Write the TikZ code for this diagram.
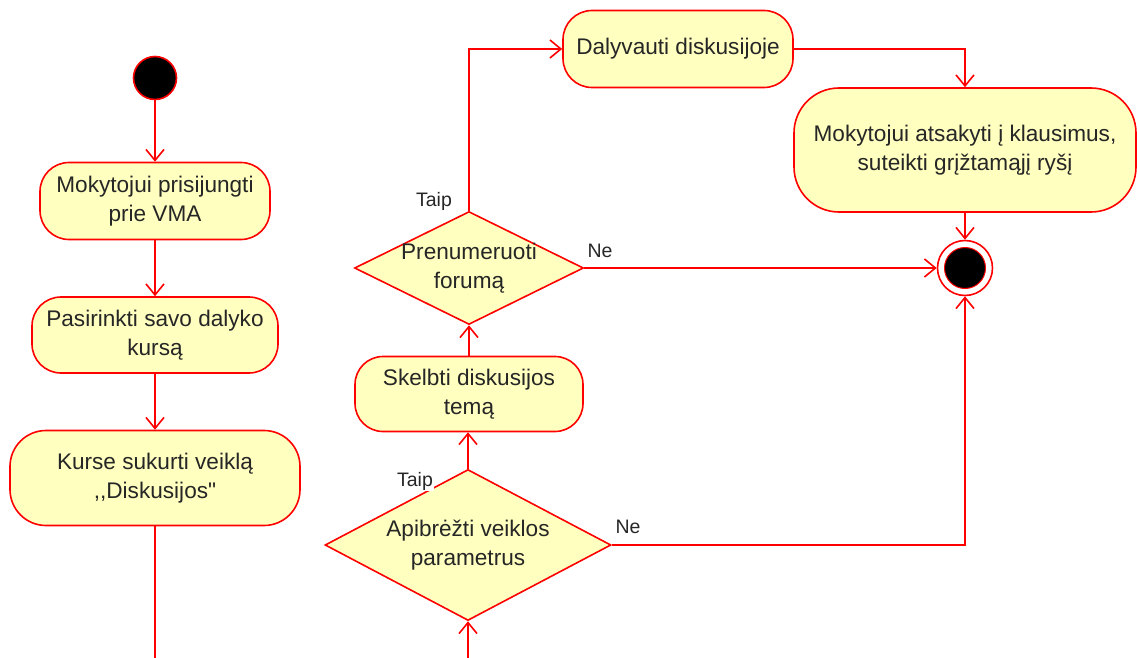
\documentclass[tikz,border=0pt]{standalone}
\usepackage{fontspec}
\setmainfont{Liberation Sans}[Ligatures=TeXOff]
\usetikzlibrary{shapes.geometric,arrows.meta}
\definecolor{actfill}{HTML}{FFFFC0}
\definecolor{actline}{HTML}{FF0000}
\definecolor{ink}{HTML}{262626}
\begin{document}
\begin{tikzpicture}[x=1pt,y=-1pt,
  act/.style={draw=actline, fill=actfill, line width=1.6pt, align=center,
    font=\fontsize{22.6}{29}\selectfont, text=ink, inner sep=0pt},
  dec/.style={diamond, draw=actline, fill=actfill, line width=1.6pt, inner sep=0pt},
  dtext/.style={align=center, font=\fontsize{22.6}{29}\selectfont, text=ink, inner sep=0pt},
  lbl/.style={font=\fontsize{19.5}{23}\selectfont, text=ink, inner sep=1pt},
  flow/.style={draw=actline, line width=1.6pt, -{Straight Barb[length=11pt,width=18pt]}},
  startnode/.style={circle, draw=actline, fill=black, line width=1.6pt, minimum size=43pt, inner sep=0pt},
  endouter/.style={circle, draw=actline, fill=white, line width=1.6pt, minimum size=55pt, inner sep=0pt},
  endinner/.style={circle, draw=actline, fill=black, line width=1pt, minimum size=41pt, inner sep=0pt}
]
\useasboundingbox (0,0) rectangle (1137,658);

% left column
\node[startnode] (start) at (155,78) {};
\node[act, minimum width=230pt, minimum height=77pt, rounded corners=29pt] (a1) at (155,201)
  {Mokytojui prisijungti\\prie VMA};
\node[act, minimum width=246pt, minimum height=76pt, rounded corners=29pt] (a2) at (155,335)
  {Pasirinkti savo dalyko\\kursą};
\node[act, minimum width=290pt, minimum height=95pt, rounded corners=36pt] (a3) at (155,478)
  {Kurse sukurti veiklą\\,,Diskusijos"};

% middle column
\node[dec, minimum width=286pt, minimum height=151pt,
  label={[dtext]center:Apibrėžti veiklos\\parametrus}] (d1) at (468,545) {};
\node[act, minimum width=228pt, minimum height=75pt, rounded corners=28pt] (a4) at (469,394)
  {Skelbti diskusijos\\temą};
\node[dec, minimum width=229pt, minimum height=113pt,
  label={[dtext]center:Prenumeruoti\\forumą}] (d2) at (469,268) {};

% top and right
\node[act, minimum width=230pt, minimum height=77pt, rounded corners=29pt] (a5) at (678,49)
  {Dalyvauti diskusijoje};
\node[act, minimum width=342pt, minimum height=124pt, rounded corners=45pt] (a6) at (965,150)
  {Mokytojui atsakyti į klausimus,\\suteikti grįžtamąjį ryšį};
\node[endouter] (end) at (965,268) {};
\node[endinner] (endin) at (965,268) {};

% route along the bottom edge
\coordinate (bl) at (155,658.4);
\coordinate (br) at (468,658.4);

% connectors
\draw[flow] (start) -- (a1);
\draw[flow] (a1) -- (a2);
\draw[flow] (a2) -- (a3);
\draw[flow] (a3.south) -- (bl) -- (br) -- (d1.south);
\draw[flow] (d1.north) -- (a4.south -| d1.north);
\draw[flow] (a4.north) -- (d2.south);
\draw[flow] (d2.north) |- (a5.west);
\draw[flow] (a5.east) -| (a6.north);
\draw[flow] (a6.south) -- (end.north);
\draw[flow] (d2.east) -- (end.west);
\draw[flow] (d1.east) -| (end.south);

% guard labels
\node[lbl, fill=white] (t1) at (415,481) {Taip};
\node[lbl] (n1) at (628,527) {Ne};
\node[lbl] (t2) at (434,201) {Taip};
\node[lbl] (n2) at (600,251) {Ne};
\end{tikzpicture}
\end{document}
